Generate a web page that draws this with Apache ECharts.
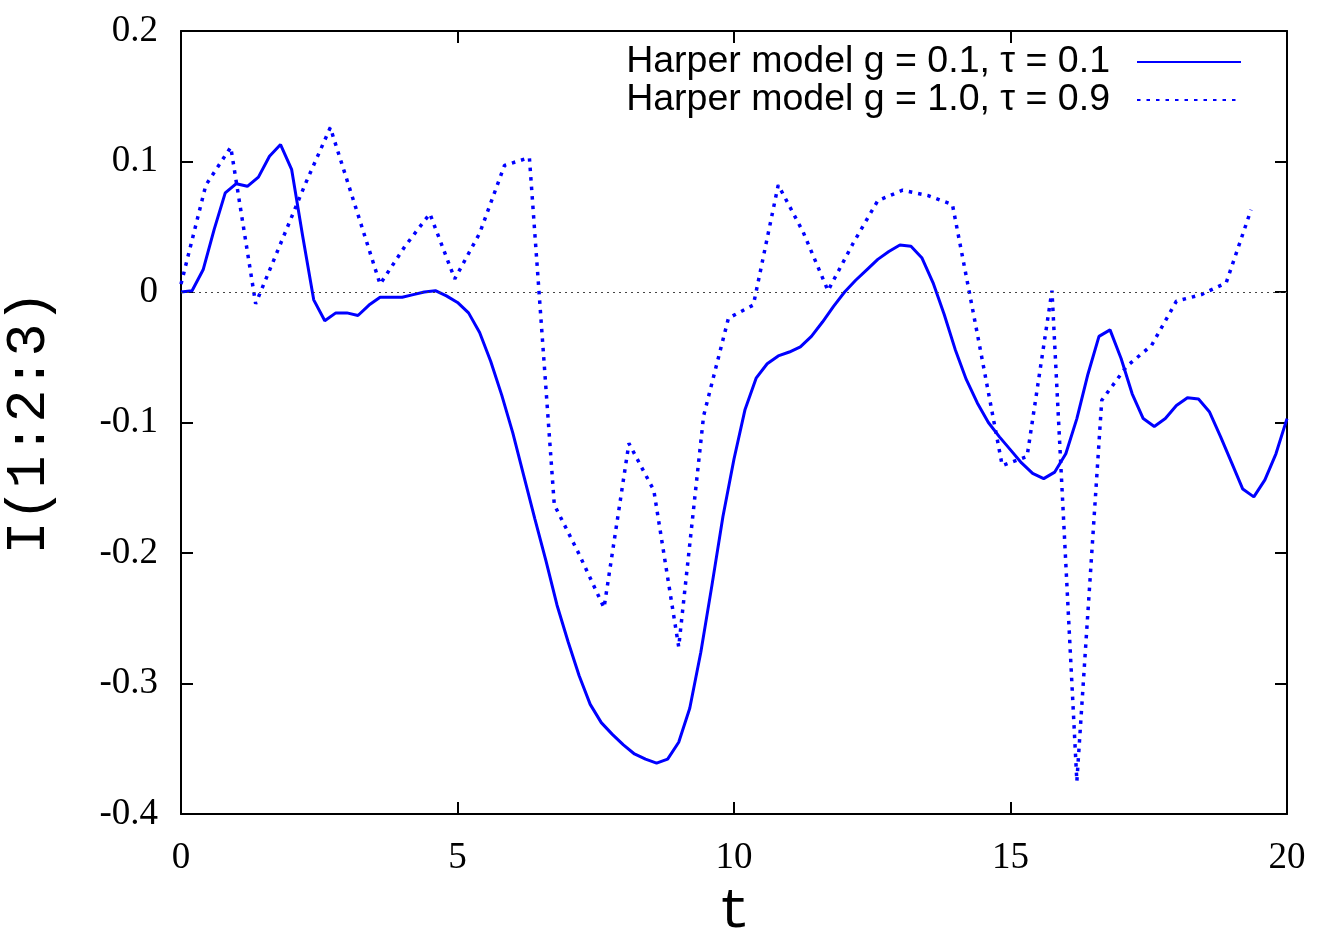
<!DOCTYPE html>
<html>
<head>
<meta charset="utf-8">
<script src="https://cdn.jsdelivr.net/npm/echarts@6/dist/echarts.min.js"></script>
<style>
html,body{margin:0;padding:0;background:#fff;}
#chart{width:1337px;height:932px;}
</style>
</head>
<body>
<div id="chart"></div>
<script>
// time grids
const tSolid = [
 0.0,0.2,0.4,0.6,0.8,1.0,1.2,1.4,1.6,1.8,
 2.0,2.2,2.4,2.6,2.8,3.0,3.2,3.4,3.6,3.8,
 4.0,4.2,4.4,4.6,4.8,5.0,5.2,5.4,5.6,5.8,
 6.0,6.2,6.4,6.6,6.8,7.0,7.2,7.4,7.6,7.8,
 8.0,8.2,8.4,8.6,8.8,9.0,9.2,9.4,9.6,9.8,
 10.0,10.2,10.4,10.6,10.8,11.0,11.2,11.4,11.6,11.8,
 12.0,12.2,12.4,12.6,12.8,13.0,13.2,13.4,13.6,13.8,
 14.0,14.2,14.4,14.6,14.8,15.0,15.2,15.4,15.6,15.8,
 16.0,16.2,16.4,16.6,16.8,17.0,17.2,17.4,17.6,17.8,
 18.0,18.2,18.4,18.6,18.8,19.0,19.2,19.4,19.6,19.8,
 20.0
];
const vSolid = [
 0.000,0.001,0.017,0.048,0.076,0.083,0.081,0.088,0.104,0.113,
 0.094,0.043,-0.006,-0.022,-0.016,-0.016,-0.018,-0.010,-0.004,-0.004,
 -0.004,-0.002,0.000,0.001,-0.003,-0.008,-0.016,-0.031,-0.053,-0.079,
 -0.108,-0.141,-0.174,-0.206,-0.240,-0.268,-0.294,-0.316,-0.330,-0.339,
 -0.347,-0.354,-0.358,-0.361,-0.358,-0.345,-0.319,-0.276,-0.225,-0.172,
 -0.128,-0.090,-0.066,-0.055,-0.049,-0.046,-0.042,-0.034,-0.023,-0.011,
 0.000,0.009,0.017,0.025,0.031,0.036,0.035,0.026,0.007,-0.017,
 -0.044,-0.067,-0.085,-0.100,-0.111,-0.121,-0.131,-0.139,-0.143,-0.138,
 -0.124,-0.097,-0.063,-0.034,-0.029,-0.051,-0.078,-0.097,-0.103,-0.097,
 -0.087,-0.081,-0.082,-0.092,-0.111,-0.131,-0.151,-0.157,-0.144,-0.124,
 -0.097
];
const tDotted = [
 0.00,0.45,0.90,1.35,1.80,2.25,2.70,3.15,3.60,4.05,
 4.50,4.95,5.40,5.85,6.30,6.75,7.20,7.65,8.10,8.55,
 9.00,9.45,9.90,10.35,10.80,11.25,11.70,12.15,12.60,13.05,
 13.50,13.95,14.40,14.85,15.30,15.75,16.20,16.65,17.10,17.55,
 18.00,18.45,18.90,19.35
];
const vDotted = [
 0.006,0.082,0.111,-0.009,0.037,0.083,0.126,0.066,0.006,0.035,
 0.060,0.010,0.045,0.097,0.103,-0.163,-0.201,-0.242,-0.116,-0.152,
 -0.272,-0.095,-0.020,-0.010,0.082,0.046,0.001,0.037,0.070,0.078,
 0.074,0.067,-0.032,-0.133,-0.126,0.001,-0.375,-0.083,-0.057,-0.041,
 -0.007,-0.002,0.007,0.063
];
const seriesNames = ['Harper model g = 0.1, \u03c4 = 0.1', 'Harper model g = 1.0, \u03c4 = 0.9'];
const xTicks = {min:0, max:20, interval:5};
const yTicks = {min:-0.4, max:0.2, interval:0.1};

const chart = echarts.init(document.getElementById('chart'), null, {renderer:'canvas'});
const axisLineStyle = {color:'#000', width:2};
const tickStyle = {show:true, inside:true, length:12, lineStyle:{color:'#000', width:2}};
const labelFont = {fontFamily:'Liberation Serif', fontSize:37, color:'#000'};
const zip = (a,b)=>a.map((x,i)=>[x,b[i]]);

chart.setOption({
  animation:false,
  backgroundColor:'#fff',
  grid:{left:181, right:50, top:31, bottom:118, containLabel:false, outerBoundsMode:'none'},
  legend:{
    orient:'vertical', right:95, top:43, padding:0, itemGap:0,
    align:'right', itemWidth:104, itemHeight:20,
    itemStyle:{opacity:0, borderWidth:0},
    textStyle:{fontFamily:'Liberation Sans', fontSize:37.5, color:'#000', lineHeight:38, padding:[0,22,0,0]},
    data:seriesNames
  },
  xAxis:[{
    type:'value', min:xTicks.min, max:xTicks.max, interval:xTicks.interval,
    name:'t', nameLocation:'middle', nameGap:71,
    nameTextStyle:{fontFamily:'Liberation Mono', fontSize:55, color:'#000'},
    axisLine:{show:true, onZero:false, lineStyle:axisLineStyle},
    axisTick:tickStyle,
    axisLabel:Object.assign({margin:26}, labelFont),
    splitLine:{show:false}
  },{
    type:'value', position:'top', min:xTicks.min, max:xTicks.max, interval:xTicks.interval,
    axisLine:{show:true, onZero:false, lineStyle:axisLineStyle},
    axisTick:tickStyle, axisLabel:{show:false}, splitLine:{show:false}
  }],
  yAxis:[{
    type:'value', min:yTicks.min, max:yTicks.max, interval:yTicks.interval,
    name:'I(1:2:3)', nameLocation:'middle', nameGap:124,
    nameTextStyle:{fontFamily:'Liberation Mono', fontSize:55, color:'#000'},
    axisLine:{show:true, onZero:false, lineStyle:axisLineStyle},
    axisTick:tickStyle,
    axisLabel:Object.assign({margin:23, formatter:v=>String(+v.toFixed(1))}, labelFont),
    splitLine:{show:false}
  },{
    type:'value', position:'right', min:yTicks.min, max:yTicks.max, interval:yTicks.interval,
    axisLine:{show:true, onZero:false, lineStyle:axisLineStyle},
    axisTick:tickStyle, axisLabel:{show:false}, splitLine:{show:false}
  }],
  series:[{
    name:seriesNames[0], type:'line', data:zip(tSolid,vSolid),
    showSymbol:false, symbol:'none', color:'#0000ff',
    lineStyle:{color:'#0000ff', width:3},
    markLine:{
      silent:true, symbol:['none','none'], label:{show:false},
      lineStyle:{color:'#444', width:1.2, type:[2,4]},
      data:[{yAxis:0}]
    },
    z:3
  },{
    name:seriesNames[1], type:'line', data:zip(tDotted,vDotted),
    showSymbol:false, symbol:'none', color:'#0000ff',
    lineStyle:{color:'#0000ff', width:3.5, type:[3.5,6]},
    z:3
  }]
});
</script>
</body>
</html>
